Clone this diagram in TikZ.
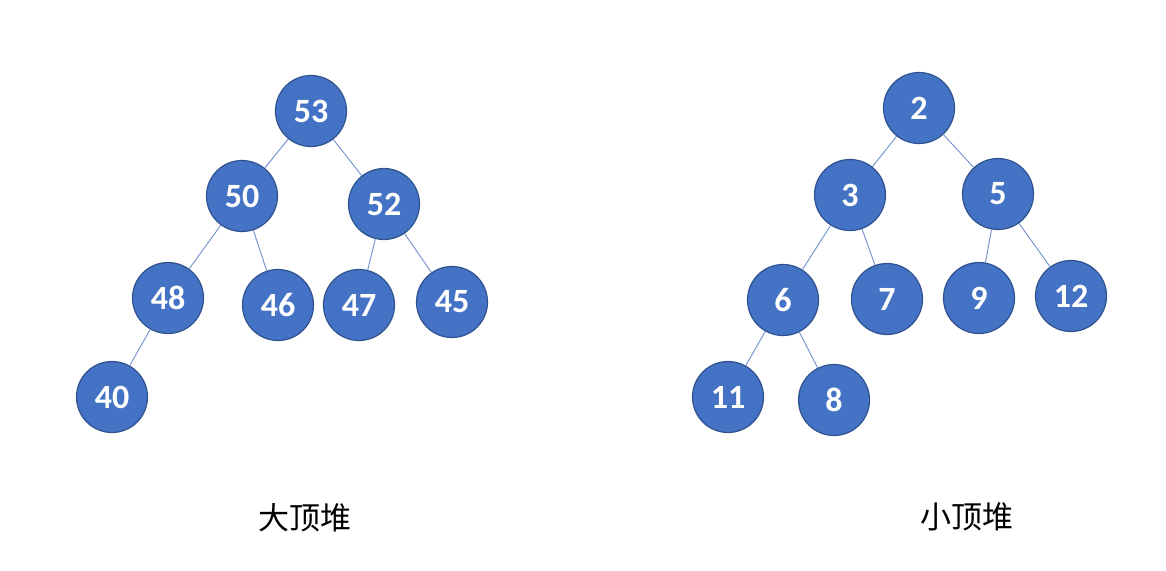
\documentclass[tikz,border=0pt]{standalone}
\usepackage{fontspec}
\setmainfont{Carlito}
\newfontfamily\cjk{Noto Sans CJK SC}
\definecolor{nodefill}{HTML}{4472C4}
\definecolor{nodeborder}{HTML}{2F528F}
\definecolor{edgecol}{HTML}{6F8FCF}
\begin{document}
\begin{tikzpicture}[x=1pt,y=-1pt,
  hnode/.style={circle,fill=nodefill,draw=nodeborder,line width=1.2pt,minimum size=71pt,inner sep=0pt,text=white,font=\bfseries\fontsize{34}{36}\selectfont},
  edge/.style={draw=edgecol,line width=0.9pt},
  captext/.style={font=\cjk\fontsize{31}{34}\selectfont}]
\useasboundingbox (0,0) rectangle (1166,570);
% max heap
\node[hnode] (a53) at (311,111) {53};
\node[hnode] (a50) at (242,196) {50};
\node[hnode] (a52) at (384,204) {52};
\node[hnode] (a48) at (168,298) {48};
\node[hnode] (a46) at (278,305) {46};
\node[hnode] (a47) at (359,305) {47};
\node[hnode] (a45) at (452,302) {45};
\node[hnode] (a40) at (112,397) {40};
\draw[edge] (a53) -- (a50);
\draw[edge] (a53) -- (a52);
\draw[edge] (a50) -- (a48);
\draw[edge] (a50) -- (a46);
\draw[edge] (a52) -- (a47);
\draw[edge] (a52) -- (a45);
\draw[edge] (a48) -- (a40);
% min heap
\node[hnode] (b2) at (919,108) {2};
\node[hnode] (b3) at (850,195) {3};
\node[hnode] (b5) at (998,194) {5};
\node[hnode] (b6) at (783,300) {6};
\node[hnode] (b7) at (887,299) {7};
\node[hnode] (b9) at (979,298) {9};
\node[hnode] (b12) at (1071,296) {12};
\node[hnode] (b11) at (728,397) {11};
\node[hnode] (b8) at (834,400) {8};
\draw[edge] (b2) -- (b3);
\draw[edge] (b2) -- (b5);
\draw[edge] (b3) -- (b6);
\draw[edge] (b3) -- (b7);
\draw[edge] (b5) -- (b9);
\draw[edge] (b5) -- (b12);
\draw[edge] (b6) -- (b11);
\draw[edge] (b6) -- (b8);
% captions
\node[captext] (c1) at (305,518) {大顶堆};
\node[captext] (c2) at (967,517) {小顶堆};
\end{tikzpicture}
\end{document}
